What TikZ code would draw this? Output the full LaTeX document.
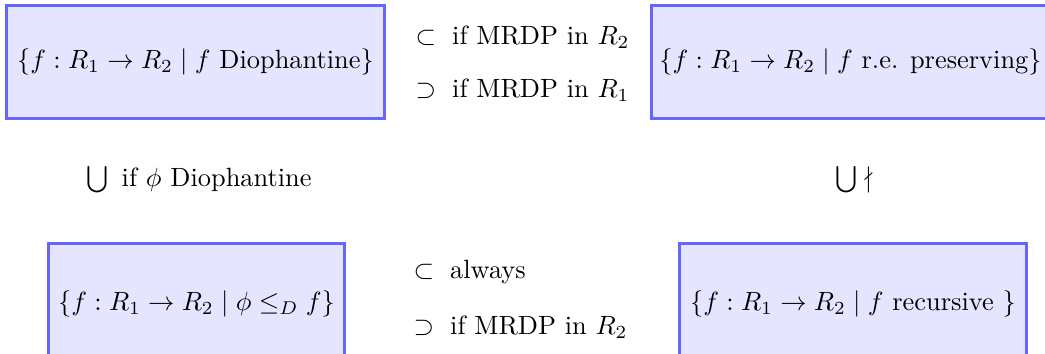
\documentclass[tikz,border=0pt]{standalone}
\usepackage{amsmath,amssymb}
\begin{document}
\begin{tikzpicture}[x=0.379pt,y=-0.379pt,
  setbox/.style={draw=blue!60,fill=blue!10,line width=1.1pt,inner sep=0pt,anchor=north west},
  rel/.style={anchor=west,inner sep=0pt}]
\useasboundingbox (0,0) rectangle (1045,353);
\clip (0,0) rectangle (1045,353);
% boxes
\node[setbox,minimum width=378*0.379pt,minimum height=113*0.379pt] (dio) at (5,4) {};
\node at (dio.center) (diot) {$\{f : R_1 \to R_2 \mid f \text{ Diophantine}\}$};
\node[setbox,minimum width=398*0.379pt,minimum height=113*0.379pt] (re) at (650,4) {};
\node at (re.center) (ret) {$\{f : R_1 \to R_2 \mid f \text{ r.e. preserving}\}$};
\node[setbox,minimum width=296*0.379pt,minimum height=120*0.379pt] (phi) at (47,242) {};
\node at (phi.center) (phit) {$\{f : R_1 \to R_2 \mid \phi \leq_D f\}$};
\node[setbox,minimum width=347*0.379pt,minimum height=120*0.379pt] (rec) at (678,242) {};
\node at (rec.center) (rect) {$\{f : R_1 \to R_2 \mid f \text{ recursive }\}$};
% relation labels
\node[rel] (l1) at (415,37) {$\subset \text{ if MRDP in } R_2$};
\node[rel] (l2) at (415,90) {$\supset \text{ if MRDP in } R_1$};
\node[rel] (l3) at (86,180) {$\bigcup \text{ if } \phi \text{ Diophantine}$};
\node[rel] (l4) at (835,180) {$\bigcup\nmid$};
\node[rel] (l5) at (413,272) {$\subset \text{ always}$};
\node[rel] (l6) at (413,327) {$\supset \text{ if MRDP in } R_2$};
\end{tikzpicture}
\end{document}
